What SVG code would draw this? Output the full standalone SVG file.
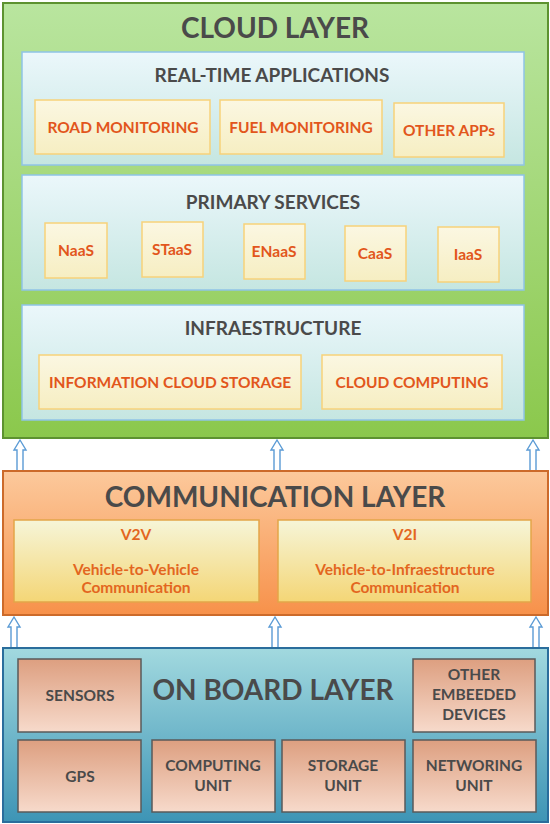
<svg xmlns="http://www.w3.org/2000/svg" width="550" height="824" viewBox="0 0 550 824">
<defs>
<linearGradient id="gCloud" x1="0" y1="0" x2="0" y2="1"><stop offset="0" stop-color="#b9e59f"/><stop offset="1" stop-color="#8bc84c"/></linearGradient>
<linearGradient id="gPanel" x1="0" y1="0" x2="0" y2="1"><stop offset="0" stop-color="#ebf7fb"/><stop offset="1" stop-color="#c5e6e1"/></linearGradient>
<linearGradient id="gApp" x1="0" y1="0" x2="0" y2="1"><stop offset="0" stop-color="#fbf7e2"/><stop offset="1" stop-color="#f6eec2"/></linearGradient>
<linearGradient id="gComm" x1="0" y1="0" x2="0" y2="1"><stop offset="0" stop-color="#fcc99c"/><stop offset="1" stop-color="#f7914a"/></linearGradient>
<linearGradient id="gV" x1="0" y1="0" x2="0" y2="1"><stop offset="0" stop-color="#f6f5d8"/><stop offset="1" stop-color="#f4d676"/></linearGradient>
<linearGradient id="gBoard" x1="0" y1="0" x2="0" y2="1"><stop offset="0" stop-color="#a2d9df"/><stop offset="1" stop-color="#3d94b5"/></linearGradient>
<linearGradient id="gUnit" x1="0" y1="0" x2="0" y2="1"><stop offset="0" stop-color="#dd9f80"/><stop offset="1" stop-color="#f7dacb"/></linearGradient>
</defs>
<style>
text{font-family:Lato,"Open Sans","Liberation Sans",sans-serif;font-weight:bold;text-anchor:middle}
.layerT{font-size:28px;fill:#4a4a4a}
.panT{font-size:19px;fill:#4a4a4a}
.appT{font-size:15.5px;fill:#e2561c}
.vT{font-size:15.5px;fill:#e3661f}
.uT{font-size:15.5px;fill:#4a4a4a}
.panel{fill:url(#gPanel);stroke:#8fc3e6;stroke-width:1.5}
.app{fill:url(#gApp);stroke:#f7d27a;stroke-width:1.5}
.vbox{fill:url(#gV);stroke:#e3a548;stroke-width:1.5}
.unit{fill:url(#gUnit);stroke:#5a5a5a;stroke-width:1.5}
.arr{fill:#ffffff;stroke:#5b9bd5;stroke-width:1.4}
</style>

<g id="cloud-layer">
<rect x="3" y="3" width="545" height="435" fill="url(#gCloud)" stroke="#5d9230" stroke-width="2"/>
<text class="layerT" x="275" y="38">CLOUD LAYER</text>
</g>

<g id="real-time-applications">
<rect class="panel" x="22" y="52" width="502" height="113"/>
<text class="panT" x="272" y="82">REAL-TIME APPLICATIONS</text>
</g>
<g id="road-monitoring"><rect class="app" x="35" y="100" width="175" height="54"/><text class="appT" x="123" y="133">ROAD MONITORING</text></g>
<g id="fuel-monitoring"><rect class="app" x="220" y="100" width="162" height="54"/><text class="appT" x="301" y="133">FUEL MONITORING</text></g>
<g id="other-apps"><rect class="app" x="394" y="103" width="110" height="54"/><text class="appT" x="449" y="136">OTHER APPs</text></g>

<g id="primary-services">
<rect class="panel" x="22" y="175" width="502" height="115"/>
<text class="panT" x="273" y="209">PRIMARY SERVICES</text>
</g>
<g id="naas"><rect class="app" x="45" y="223" width="62" height="55"/><text class="appT" x="76" y="256">NaaS</text></g>
<g id="staas"><rect class="app" x="142" y="222" width="61" height="55"/><text class="appT" x="172" y="255">STaaS</text></g>
<g id="enaas"><rect class="app" x="244" y="224" width="61" height="55"/><text class="appT" x="274" y="257">ENaaS</text></g>
<g id="caas"><rect class="app" x="345" y="226" width="61" height="55"/><text class="appT" x="375" y="259">CaaS</text></g>
<g id="iaas"><rect class="app" x="438" y="227" width="61" height="55"/><text class="appT" x="468" y="260">IaaS</text></g>

<g id="infraestructure">
<rect class="panel" x="22" y="305" width="502" height="115"/>
<text class="panT" x="273" y="335">INFRAESTRUCTURE</text>
</g>
<g id="information-cloud-storage"><rect class="app" x="39" y="355" width="262" height="54"/><text class="appT" x="170" y="388">INFORMATION CLOUD STORAGE</text></g>
<g id="cloud-computing"><rect class="app" x="322" y="355" width="180" height="54"/><text class="appT" x="412" y="388">CLOUD COMPUTING</text></g>

<g id="connectors">
<path class="arr" d="M20,440 L14,450 L17,450 L17,471 L23,471 L23,450 L26,450 Z"/>
<path class="arr" d="M277,440 L271,450 L274,450 L274,471 L280,471 L280,450 L283,450 Z"/>
<path class="arr" d="M533,440 L527,450 L530,450 L530,471 L536,471 L536,450 L539,450 Z"/>
<path class="arr" d="M14,617 L8,627 L11,627 L11,648 L17,648 L17,627 L20,627 Z"/>
<path class="arr" d="M275,617 L269,627 L272,627 L272,648 L278,648 L278,627 L281,627 Z"/>
<path class="arr" d="M536,617 L530,627 L533,627 L533,648 L539,648 L539,627 L542,627 Z"/>
</g>

<g id="communication-layer">
<rect x="3" y="471" width="545" height="144" fill="url(#gComm)" stroke="#cc6a2a" stroke-width="2"/>
<text class="layerT" x="275" y="507">COMMUNICATION LAYER</text>
</g>
<g id="v2v"><rect class="vbox" x="14" y="520" width="245" height="82"/>
<text class="vT" x="136" y="540">V2V</text><text class="vT" x="136" y="575">Vehicle-to-Vehicle</text><text class="vT" x="136" y="593">Communication</text></g>
<g id="v2i"><rect class="vbox" x="278" y="520" width="253" height="82"/>
<text class="vT" x="405" y="540">V2I</text><text class="vT" x="405" y="575">Vehicle-to-Infraestructure</text><text class="vT" x="405" y="593">Communication</text></g>

<g id="on-board-layer">
<rect x="3" y="648" width="545" height="174" fill="url(#gBoard)" stroke="#2a6d9c" stroke-width="2"/>
<text class="layerT" x="273" y="700">ON BOARD LAYER</text>
</g>
<g id="sensors"><rect class="unit" x="18" y="659" width="123" height="73"/><text class="uT" x="80" y="701">SENSORS</text></g>
<g id="other-embedded-devices"><rect class="unit" x="413" y="659" width="122" height="73"/><text class="uT" x="474" y="680">OTHER</text><text class="uT" x="474" y="700">EMBEEDED</text><text class="uT" x="474" y="720">DEVICES</text></g>
<g id="gps"><rect class="unit" x="18" y="740" width="123" height="72"/><text class="uT" x="80" y="782">GPS</text></g>
<g id="computing-unit"><rect class="unit" x="152" y="740" width="123" height="72"/><text class="uT" x="213" y="771">COMPUTING</text><text class="uT" x="213" y="791">UNIT</text></g>
<g id="storage-unit"><rect class="unit" x="282" y="740" width="123" height="72"/><text class="uT" x="343" y="771">STORAGE</text><text class="uT" x="343" y="791">UNIT</text></g>
<g id="networking-unit"><rect class="unit" x="413" y="740" width="123" height="72"/><text class="uT" x="474" y="771">NETWORING</text><text class="uT" x="474" y="791">UNIT</text></g>
</svg>
